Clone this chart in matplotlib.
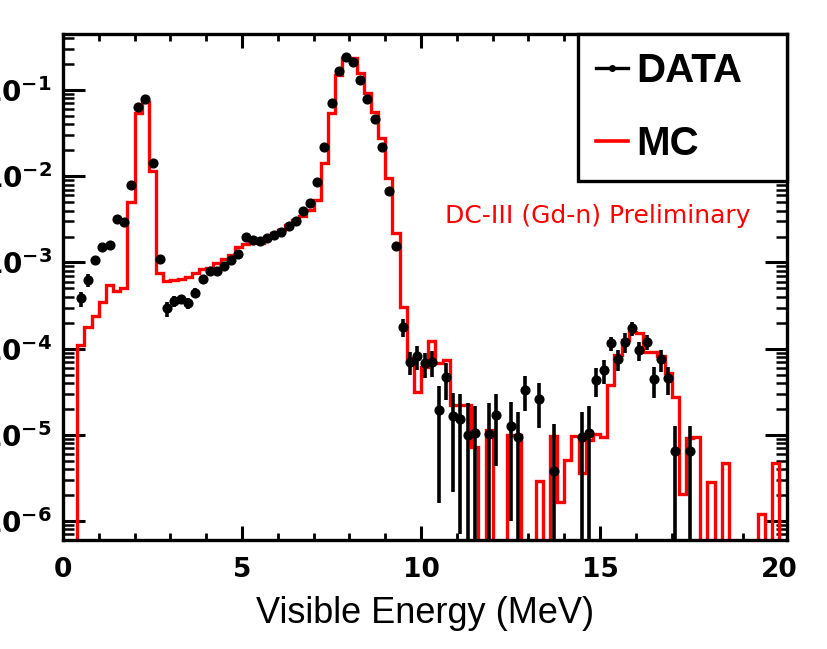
import matplotlib
matplotlib.use('Agg')
import matplotlib.pyplot as plt
from matplotlib.lines import Line2D
from matplotlib.ticker import LogLocator, MultipleLocator, FuncFormatter, NullFormatter
import numpy as np

# visible energy bins: 100 bins of 0.2 MeV from 0 to 20 MeV
edges = np.linspace(0, 20, 101)
centers = 0.5 * (edges[:-1] + edges[1:])

# MC prediction per bin (0 = empty bin)
mc = [
    0, 0, 1.10e-4, 1.79e-4, 2.39e-4, 3.44e-4, 5.47e-4, 4.70e-4, 5.01e-4, 4.98e-3,
    5.46e-2, 7.19e-2, 1.15e-2, 7.46e-4, 6.08e-4, 6.25e-4, 6.41e-4, 6.76e-4, 7.53e-4, 8.49e-4,
    8.61e-4, 9.84e-4, 1.11e-3, 1.22e-3, 1.50e-3, 1.62e-3, 1.67e-3, 1.69e-3, 1.97e-3, 2.18e-3,
    2.38e-3, 2.72e-3, 3.10e-3, 3.48e-3, 4.06e-3, 5.30e-3, 1.41e-2, 5.37e-2, 0.149, 0.233,
    0.233, 0.156, 9.16e-2, 5.60e-2, 2.75e-2, 9.46e-3, 2.18e-3, 3.06e-4, 7.71e-5, 3.16e-5,
    6.17e-5, 1.24e-4, 6.76e-5, 7.41e-5, 2.22e-5, 2.22e-5, 2.22e-5, 7.28e-6, 0, 1.15e-5,
    0, 0, 1.00e-5, 1.00e-5, 0, 0, 2.95e-6, 0, 9.68e-6, 1.68e-6,
    5.13e-6, 9.68e-6, 3.57e-6, 8.71e-6, 1.02e-5, 9.33e-6, 3.80e-5, 8.43e-5, 1.26e-4, 1.58e-4,
    1.51e-4, 9.20e-5, 9.20e-5, 8.20e-5, 5.25e-5, 2.75e-5, 2.04e-6, 9.20e-6, 9.55e-6, 0,
    2.82e-6, 0, 4.68e-6, 0, 0, 0, 0, 1.20e-6, 0, 4.68e-6,
]

# measured data per bin (None = no entry)
data = [
    None, None, 3.83e-4, 6.25e-4, 1.07e-3, 1.52e-3, 1.59e-3, 3.18e-3, 2.92e-3, 7.91e-3,
    6.31e-2, 7.87e-2, 1.41e-2, 1.10e-3, 2.93e-4, 3.56e-4, 3.73e-4, 3.35e-4, 4.42e-4, 6.37e-4,
    8.02e-4, 8.02e-4, 9.16e-4, 1.07e-3, 1.27e-3, 1.95e-3, 1.82e-3, 1.79e-3, 1.94e-3, 2.08e-3,
    2.23e-3, 2.67e-3, 3.05e-3, 3.98e-3, 4.93e-3, 8.49e-3, 2.20e-2, 7.16e-2, 0.166, 0.240,
    0.209, 0.131, 7.80e-2, 4.57e-2, 2.16e-2, 6.79e-3, 1.55e-3, 1.79e-4, 7.05e-5, 8.20e-5,
    6.76e-5, 7.05e-5, 1.94e-5, 4.65e-5, 1.65e-5, 1.52e-5, 1.00e-5, 1.04e-5, None, 1.02e-5,
    1.70e-5, None, 1.26e-5, 9.55e-6, 3.34e-5, None, 2.58e-5, None, 3.85e-6, None,
    None, None, 9.55e-6, 1.04e-5, 4.33e-5, 5.65e-5, 1.15e-4, 7.59e-5, 1.20e-4, 1.72e-4,
    9.64e-5, 1.20e-4, 4.42e-5, 7.52e-5, 4.52e-5, 6.49e-6, None, 6.49e-6, None, None,
    None, None, None, None, None, None, None, None, None, None,
]

data_err = [
    None, None, 7.5e-5, 1.08e-4, 8e-5, 9e-5, 1e-4, 1.4e-4, 1.3e-4, 2.2e-4,
    6e-4, 7e-4, 3e-4, 8e-5, 5.7e-5, 5.1e-5, 4.6e-5, 4.8e-5, 5.9e-5, 5e-5,
    5.5e-5, 5.5e-5, 6e-5, 6.5e-5, 7e-5, 8.5e-5, 8e-5, 8e-5, 8.5e-5, 9e-5,
    9.5e-5, 1e-4, 1.1e-4, 1.3e-4, 1.4e-4, 1.8e-4, 3e-4, 5e-4, 8e-4, 9e-4,
    9e-4, 7e-4, 5.5e-4, 4e-4, 3e-4, 1.6e-4, 7e-5, 4.3e-5, 2.15e-5, 2.5e-5,
    2.2e-5, 2.4e-5, 1.78e-5, 2.1e-5, 1.43e-5, 1.45e-5, 1.32e-5, 1.12e-5, None, 1.34e-5,
    1.27e-5, None, 1.16e-5, 9.0e-6, 1.47e-5, None, 1.37e-5, None, 9.5e-6, None,
    None, None, 9.0e-6, 1.12e-5, 1.57e-5, 1.73e-5, 2.2e-5, 2.05e-5, 3.0e-5, 3.3e-5,
    2.4e-5, 2.4e-5, 1.75e-5, 2.1e-5, 1.65e-5, 6.2e-6, None, 6.2e-6, None, None,
    None, None, None, None, None, None, None, None, None, None,
]

mc = np.array(mc, dtype=float)
data = np.array([np.nan if v is None else v for v in data])
data_err = np.array([np.nan if v is None else v for v in data_err])

fig = plt.figure(figsize=(8.27, 6.49), dpi=100)
ax = fig.add_axes([0.0762, 0.168, 0.8754, 0.7796])

ax.set_yscale('log')
ax.stairs(mc, edges, color='red', lw=2.4, baseline=0, zorder=2)
ax.errorbar(centers, data, yerr=data_err, fmt='o', color='black', ms=6.3,
            elinewidth=2.6, capsize=0, zorder=3)

ax.set_xlim(0, 20.22)
ax.set_ylim(6.03e-7, 0.447)

ax.xaxis.set_major_locator(MultipleLocator(5))
ax.xaxis.set_minor_locator(MultipleLocator(1))
ax.yaxis.set_major_locator(LogLocator(base=10, numticks=20))
ax.yaxis.set_minor_locator(LogLocator(base=10, subs=np.arange(2, 10), numticks=20))
ax.yaxis.set_major_formatter(FuncFormatter(lambda v, p: r'$\mathbf{10^{%d}}$' % round(np.log10(v))))
ax.yaxis.set_minor_formatter(NullFormatter())

ax.tick_params(which='both', direction='in', top=True, right=True)
ax.tick_params(axis='y', which='major', length=16, width=2.2, pad=8, labelsize=20)
ax.tick_params(axis='y', which='minor', length=8, width=1.8)
ax.tick_params(axis='x', which='major', length=10, width=2.2, pad=12, labelsize=19)
ax.tick_params(axis='x', which='minor', length=5, width=2.0)
for lab in ax.get_xticklabels():
    lab.set_fontweight('bold')
    lab.set_family('DejaVu Sans')
for sp in ax.spines.values():
    sp.set_linewidth(2.4)

ax.set_xlabel('Visible Energy (MeV)', fontsize=26, family='Liberation Sans')
ax.xaxis.set_label_coords(0.5, -0.11)

ax.text(0.5276, 0.6265, 'DC-III (Gd-n) Preliminary', transform=ax.transAxes,
        color='red', fontsize=18, family='DejaVu Sans', va='baseline', ha='left')

h_data = Line2D([], [], color='black', lw=2.4, marker='o', ms=4)
h_mc = Line2D([], [], color='red', lw=2.6)
leg = ax.legend([h_data, h_mc], ['DATA', 'MC'], loc='upper left',
                bbox_to_anchor=(0.711, 0, 0.289, 1.0), mode='expand',
                prop={'family': 'Liberation Sans', 'weight': 'bold', 'size': 29},
                fancybox=False, framealpha=1, borderpad=0.45, labelspacing=0.87,
                handlelength=0.8, handletextpad=0.2, borderaxespad=0)
leg.get_frame().set_linewidth(2.4)
leg.get_frame().set_edgecolor('black')

plt.savefig('out.png', dpi=100)
plt.close()
